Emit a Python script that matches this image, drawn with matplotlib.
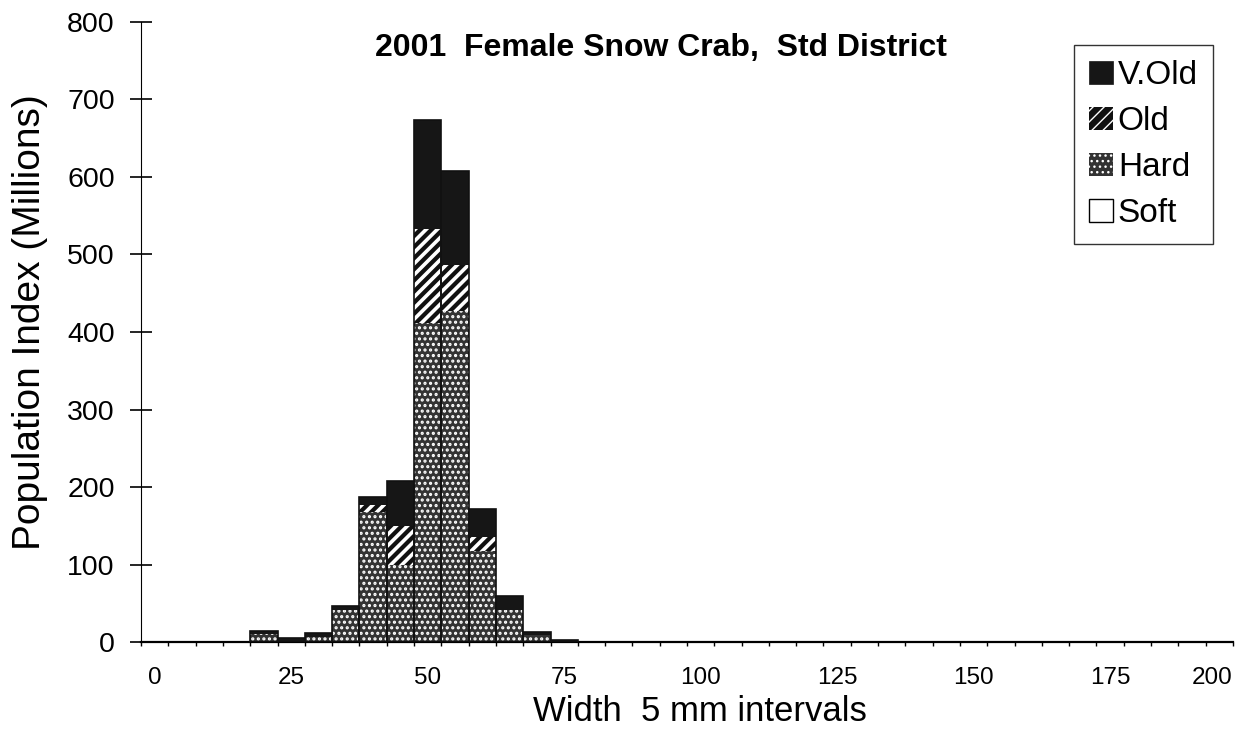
import numpy as np
import matplotlib
matplotlib.use("Agg")
import matplotlib.pyplot as plt
import matplotlib.transforms as mtransforms
from matplotlib.patches import Patch

plt.rcParams["font.family"] = ["Liberation Sans", "DejaVu Sans"]

# carapace width class (mm, lower bound of 5 mm interval) and population index (millions)
width_class = [20, 25, 30, 35, 40, 45, 50, 55, 60, 65, 70, 75]
soft = [0, 0, 0, 0, 0, 0, 0, 0, 0, 0, 0, 0]
hard = [10, 0, 7, 41, 168, 100, 412, 427, 118, 41, 9, 1]
old = [0, 0, 0, 0, 9, 50, 121, 60, 18, 0, 0, 0]
very_old = [4, 5, 4, 5, 10, 58, 140, 121, 35, 18, 4, 1]

x_tick_values = [0, 25, 50, 75, 100, 125, 150, 175]
y_tick_values = [0, 100, 200, 300, 400, 500, 600, 700, 800]

x = np.array(width_class)
soft = np.array(soft)
hard = np.array(hard)
old = np.array(old)
very_old = np.array(very_old)

fig = plt.figure(figsize=(12.55, 7.53), dpi=100)
ax = fig.add_axes([0.1124, 0.1474, 0.8700, 0.8234])

# (values, face, hatch colour, hatch, hatch line width)
layers = [
    (soft, "white", "white", None, 1.0),
    (hard, "#333333", "white", "...", 1.5),
    (old, "#111111", "white", "///", 2.6),
    (very_old, "#161616", "#161616", None, 1.0),
]

bottom = np.zeros(len(x))
for values, face, hatch_col, hatch, hlw in layers:
    with plt.rc_context({"hatch.linewidth": hlw}):
        ax.bar(x, values, width=5, bottom=bottom, color=face, edgecolor=hatch_col,
               hatch=hatch, linewidth=0, zorder=2)
    bottom = bottom + values

# bar outlines
ax.bar(x, bottom, width=5, fill=False, edgecolor="#111111", linewidth=1.2, zorder=3)

ax.set_xlim(-2.5, 197.5)
ax.set_ylim(0, 800)

ax.set_xticks(x_tick_values)
ax.set_xticklabels([str(v) for v in x_tick_values])
ax.set_xticks(np.arange(-2.5, 198, 5), minor=True)
ax.tick_params(axis="x", which="major", length=0, pad=18, labelsize=17.5)
ax.tick_params(axis="x", which="minor", direction="out", length=3, width=1)
trans = mtransforms.blended_transform_factory(ax.transData, ax.transAxes)
ax.text(197.5, -0.041, "200", transform=trans, ha="right", va="top", fontsize=17.5)

ax.set_yticks(y_tick_values)
ax.tick_params(axis="y", direction="inout", length=16, width=1.2, labelsize=20.5, pad=11)

for side in ["top", "right"]:
    ax.spines[side].set_visible(False)
ax.spines["left"].set_linewidth(0.8)
ax.spines["bottom"].set_linewidth(1.6)

fig.text(0.024, 0.572, "Population Index (Millions)", rotation=90, ha="center", va="center",
         fontsize=28)
fig.text(0.558, 0.055, "Width  5 mm intervals", ha="center", va="center", fontsize=25)

fig.text(0.527, 0.936, "2001  Female Snow Crab,  Std District", ha="center", va="center",
         fontsize=23, fontweight="bold")

with plt.rc_context({"hatch.linewidth": 2.6}):
    old_handle = Patch(facecolor="#111111", edgecolor="white", hatch="///", linewidth=0, label="Old")
with plt.rc_context({"hatch.linewidth": 1.5}):
    hard_handle = Patch(facecolor="#333333", edgecolor="white", hatch="...", linewidth=0, label="Hard")
handles = [
    Patch(facecolor="#161616", edgecolor="#161616", linewidth=0.5, label="V.Old"),
    old_handle,
    hard_handle,
    Patch(facecolor="white", edgecolor="black", linewidth=1, label="Soft"),
]
leg = ax.legend(handles=handles, loc="upper right", bbox_to_anchor=(0.9665, 0.9402),
                bbox_transform=fig.transFigure,
                fontsize=24, frameon=True, fancybox=False, edgecolor="black",
                handlelength=0.7, handleheight=0.7, handletextpad=0.15,
                labelspacing=0.45, borderpad=0.45, borderaxespad=0)
leg.get_frame().set_linewidth(1.0)

fig.savefig("out.png", dpi=100)
